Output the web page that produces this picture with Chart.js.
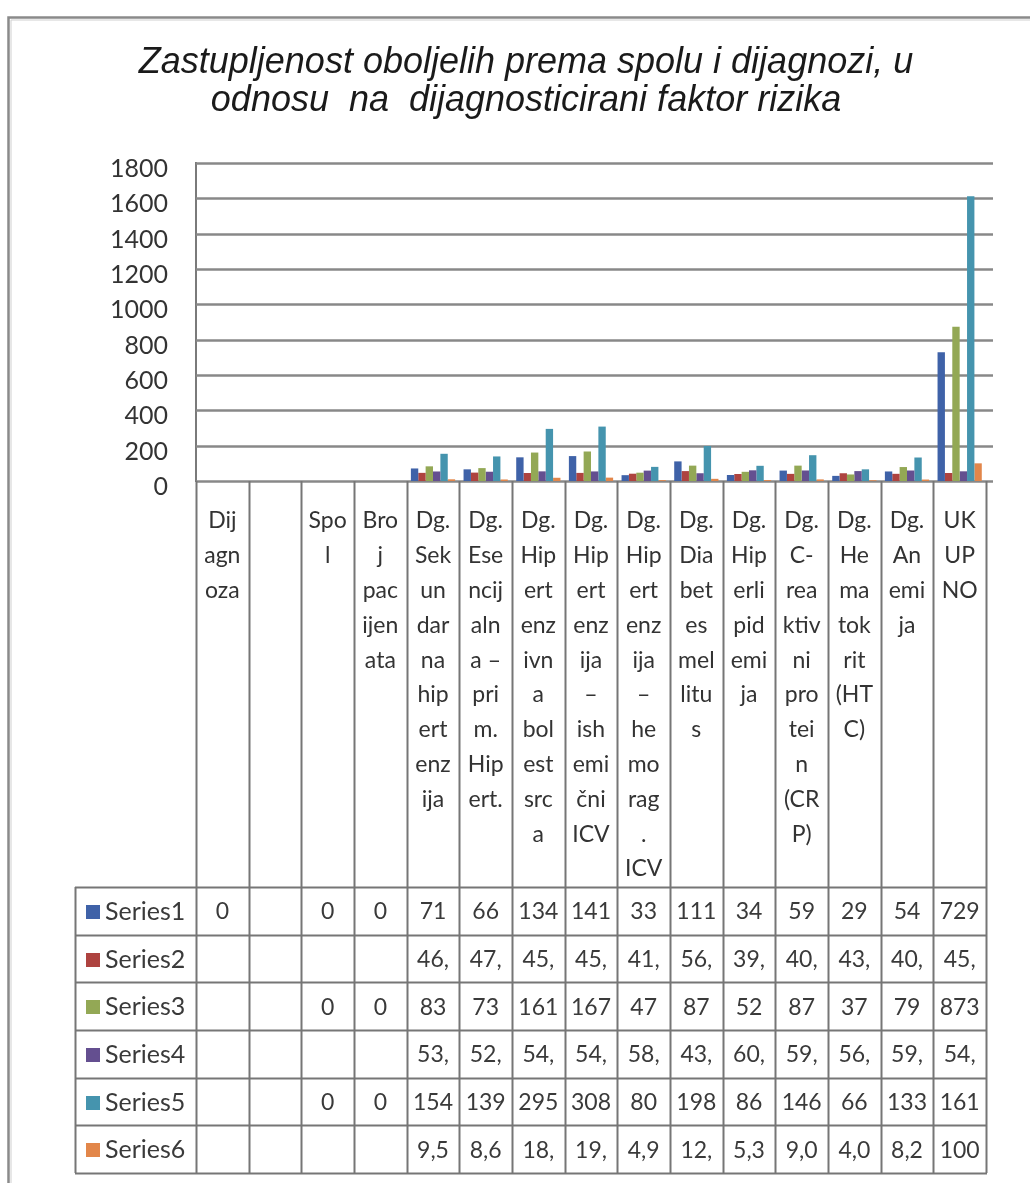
<!DOCTYPE html>
<html>
<head>
<meta charset="utf-8">
<script src="https://cdn.jsdelivr.net/npm/chart.js@4/dist/chart.umd.min.js"></script>
<style>
  html, body { margin: 0; padding: 0; background: #fff; }
  #wrap { width: 1030px; height: 1183px; position: relative; }
</style>
</head>
<body>
<div id="wrap"><canvas id="c"></canvas></div>
<script>
// Category names, already broken into the lines shown in each table column
const categories = [
  ["Dij", "agn", "oza"],
  [],
  ["Spo", "l"],
  ["Bro", "j", "pac", "ijen", "ata"],
  ["Dg.", "Sek", "un", "dar", "na", "hip", "ert", "enz", "ija"],
  ["Dg.", "Ese", "ncij", "aln", "a –", "pri", "m.", "Hip", "ert."],
  ["Dg.", "Hip", "ert", "enz", "ivn", "a", "bol", "est", "src", "a"],
  ["Dg.", "Hip", "ert", "enz", "ija", "–", "ish", "emi", "čni", "ICV"],
  ["Dg.", "Hip", "ert", "enz", "ija", "–", "he", "mo", "rag", ".", "ICV"],
  ["Dg.", "Dia", "bet", "es", "mel", "litu", "s"],
  ["Dg.", "Hip", "erli", "pid", "emi", "ja"],
  ["Dg.", "C-", "rea", "ktiv", "ni", "pro", "tei", "n", "(CR", "P)"],
  ["Dg.", "He", "ma", "tok", "rit", "(HT", "C)"],
  ["Dg.", "An", "emi", "ja"],
  ["UK", "UP", "NO"]
];

const seriesNames = ["Series1", "Series2", "Series3", "Series4", "Series5", "Series6"];

const series1 = [0, null, 0, 0, 71, 66, 134, 141, 33, 111, 34, 59, 29, 54, 729];
const series2 = [null, null, null, null, 46.1, 47.5, 45.4, 45.8, 41.3, 56.1, 39.5, 40.4, 43.9, 40.6, 45.2];
const series3 = [null, null, 0, 0, 83, 73, 161, 167, 47, 87, 52, 87, 37, 79, 873];
const series4 = [null, null, null, null, 53.9, 52.5, 54.6, 54.2, 58.8, 43.9, 60.5, 59.6, 56.1, 59.4, 54.8];
const series5 = [null, null, 0, 0, 154, 139, 295, 308, 80, 198, 86, 146, 66, 133, 1612];
const series6 = [null, null, null, null, 9.55, 8.62, 18.3, 19.1, 4.96, 12.3, 5.33, 9.06, 4.09, 8.25, 100];

const yTicks = [0, 200, 400, 600, 800, 1000, 1200, 1400, 1600, 1800];

const titleLines = [
  "Zastupljenost oboljelih prema spolu i dijagnozi, u",
  "odnosu  na  dijagnosticirani faktor rizika"
];

const colors = ["#3F62A8", "#AE433F", "#93A855", "#644F90", "#4594AE", "#E2864A"];

const allSeries = [series1, series2, series3, series4, series5, series6];

const FONT = "Lato, 'Open Sans', sans-serif";
const LINE = "#767676";

function fmt(v) {
  if (v === null || v === undefined) return "";
  return String(v).replace(".", ",");
}

// Cell text is cut from the right until it fits the column
function fitText(ctx, s, maxW) {
  while (s.length > 1 && ctx.measureText(s).width > maxW) s = s.slice(0, -1);
  return s;
}

const framePlugin = {
  id: "frameAndTitle",
  beforeDraw(chart) {
    const ctx = chart.ctx;
    ctx.save();
    ctx.fillStyle = "#fff";
    ctx.fillRect(0, 0, chart.width, chart.height);
    // outer chart border
    ctx.strokeStyle = "#8a8a8a";
    ctx.lineWidth = 2.5;
    ctx.beginPath();
    ctx.moveTo(8.5, chart.height + 5);
    ctx.lineTo(8.5, 17.5);
    ctx.lineTo(chart.width + 5, 17.5);
    ctx.stroke();
    ctx.strokeStyle = "#cfcfcf";
    ctx.lineWidth = 1;
    ctx.beginPath();
    ctx.moveTo(11, chart.height + 5);
    ctx.lineTo(11, 20);
    ctx.lineTo(chart.width + 5, 20);
    ctx.stroke();
    // title
    ctx.fillStyle = "#1a1a1a";
    ctx.font = "italic 36px 'Liberation Sans', Arial, sans-serif";
    ctx.textAlign = "center";
    ctx.textBaseline = "alphabetic";
    ctx.fillText(titleLines[0], 526, 73);
    ctx.fillText(titleLines[1], 526, 111);
    ctx.restore();
  },
  beforeDatasetsDraw(chart) {
    const ctx = chart.ctx;
    const y = chart.scales.y;
    const area = chart.chartArea;
    ctx.save();
    ctx.strokeStyle = "#888";
    ctx.lineWidth = 2.4;
    y.ticks.forEach(t => {
      const py = Math.round(y.getPixelForValue(t.value)) + 0.5;
      ctx.beginPath();
      ctx.moveTo(area.left, py);
      ctx.lineTo(area.right + 7, py);
      ctx.stroke();
    });
    ctx.restore();
  },
  afterDraw(chart) {
    const ctx = chart.ctx;
    const x = chart.scales.x;
    const area = chart.chartArea;
    const step = x.getPixelForValue(1) - x.getPixelForValue(0);
    const n = categories.length;
    const colLeft = i => x.getPixelForValue(i) - step / 2;
    const tableTop = 887;
    const rowH = (1173 - tableTop) / allSeries.length;
    const bottom = tableTop + rowH * allSeries.length;
    const legendLeft = 75;

    ctx.save();
    ctx.strokeStyle = LINE;
    ctx.lineWidth = 2;

    // column separators through label area and data rows
    for (let i = 0; i <= n; i++) {
      const px = Math.round(colLeft(i)) + 0.5;
      ctx.beginPath();
      ctx.moveTo(px, area.bottom);
      ctx.lineTo(px, bottom);
      ctx.stroke();
    }
    // legend column outline
    ctx.beginPath();
    ctx.moveTo(legendLeft + 0.5, tableTop);
    ctx.lineTo(legendLeft + 0.5, bottom);
    ctx.stroke();
    // row lines
    for (let r = 0; r <= allSeries.length; r++) {
      const py = Math.round(tableTop + r * rowH) + 0.5;
      ctx.beginPath();
      ctx.moveTo(legendLeft, py);
      ctx.lineTo(colLeft(n) + 1, py);
      ctx.stroke();
    }

    // category labels
    ctx.fillStyle = "#333";
    ctx.font = "23px " + FONT;
    ctx.textAlign = "center";
    ctx.textBaseline = "middle";
    categories.forEach((lines, i) => {
      const cx = x.getPixelForValue(i);
      lines.forEach((ln, k) => ctx.fillText(ln, cx, 521 + k * 34.8));
    });

    // data rows
    allSeries.forEach((vals, r) => {
      const cy = tableTop + r * rowH + rowH / 2 + 1;
      ctx.fillStyle = colors[r];
      ctx.fillRect(86, Math.round(cy - 7), 14, 14);
      ctx.fillStyle = "#3a3a3a";
      ctx.textAlign = "left";
      ctx.font = "25px " + FONT;
      ctx.fillText(seriesNames[r], 105, cy);
      ctx.textAlign = "center";
      ctx.font = "23px " + FONT;
      vals.forEach((v, i) => {
        const s = fitText(ctx, fmt(v), step - 8);
        if (s) ctx.fillText(s, x.getPixelForValue(i), cy);
      });
    });
    ctx.restore();
  }
};

new Chart(document.getElementById("c"), {
  type: "bar",
  data: {
    labels: categories,
    datasets: allSeries.map((vals, i) => ({
      label: seriesNames[i],
      data: vals,
      backgroundColor: colors[i],
      borderColor: colors[i],
      borderWidth: 0,
      categoryPercentage: 0.84,
      barPercentage: 1.0
    }))
  },
  options: {
    responsive: true,
    maintainAspectRatio: false,
    animation: false,
    events: [],
    layout: { padding: { left: 0, right: 44, top: 163, bottom: 702 } },
    plugins: {
      legend: { display: false },
      title: { display: false },
      tooltip: { enabled: false }
    },
    scales: {
      x: {
        display: false,
        grid: { display: false }
      },
      y: {
        min: 0,
        max: yTicks[yTicks.length - 1],
        afterFit(scale) { scale.width = 196; },
        afterBuildTicks(scale) { scale.ticks = yTicks.map(v => ({ value: v })); },
        grid: { display: false, drawTicks: false },
        border: { display: true, color: "#7a7a7a", width: 2 },
        ticks: {
          padding: 28,
          labelOffset: 6,
          color: "#333",
          font: { family: FONT, size: 25 },
          callback: v => String(v)
        }
      }
    }
  },
  plugins: [framePlugin]
});
</script>
</body>
</html>
